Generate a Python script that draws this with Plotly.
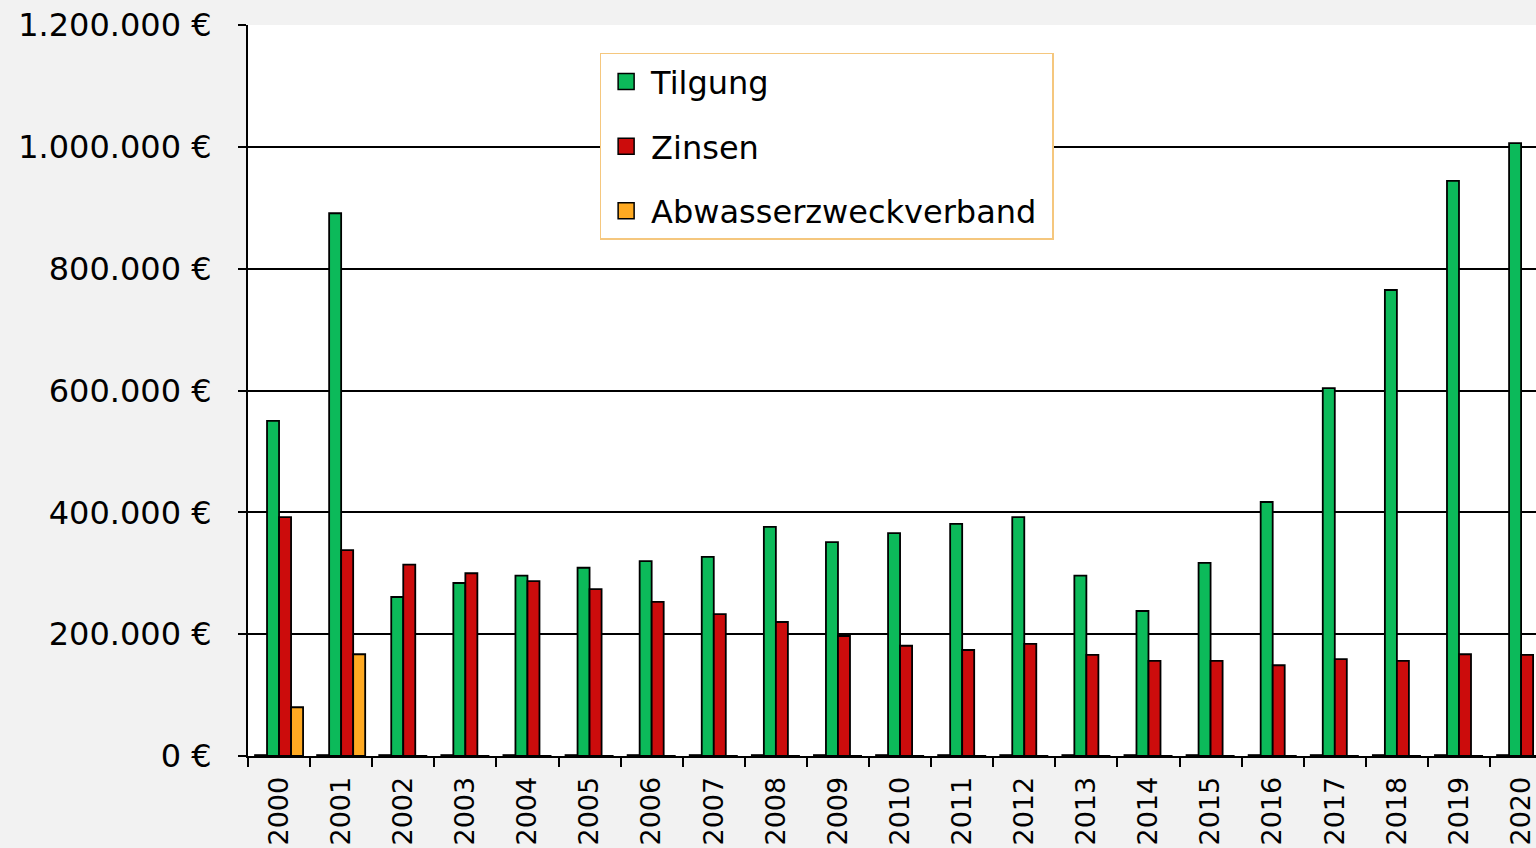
import plotly.graph_objects as go

years = [str(y) for y in range(2000, 2021)]
tilgung = [550000, 891000, 261000, 284000, 296000, 309000, 320000, 327000, 376000, 351000,
           366000, 381000, 392000, 296000, 238000, 317000, 417000, 604000, 765000, 944000, 1006000]
zinsen = [392000, 338000, 314000, 300000, 287000, 274000, 253000, 233000, 220000, 197000,
          181000, 174000, 184000, 166000, 156000, 156000, 149000, 159000, 156000, 167000, 166000]
abwasser = [80000, 167000] + [0] * 19
sonstige = [1500] * 21

y_ticks = [0, 200000, 400000, 600000, 800000, 1000000, 1200000]
y_labels = [f"{v:,}".replace(",", ".") + " €" for v in y_ticks]

names = ["Tilgung", "Zinsen", "Abwasserzweckverband"]
colors = ["#0cba5a", "#cc0c0c", "#ffaa22"]

FONT = "Tahoma, Verdana, DejaVu Sans, sans-serif"
line = dict(color="black", width=1.8)

fig = go.Figure()
fig.add_trace(go.Bar(x=years, y=sonstige, name="", showlegend=False,
                     marker=dict(color="black", line=line), hoverinfo="skip"))
for vals, nm, col in zip([tilgung, zinsen, abwasser], names, colors):
    fig.add_trace(go.Bar(x=years, y=vals, name=nm, showlegend=False,
                         marker=dict(color=col, line=line)))
# legend entries with larger square symbols
for i, (nm, col) in enumerate(zip(names, colors)):
    fig.add_trace(go.Scatter(x=[None], y=[None], mode="markers", name=nm + "\u00a0",
                             legendgroup=f"g{i}",
                             marker=dict(symbol="square", size=16, color=col,
                                         line=dict(color="black", width=1.5))))

fig.update_layout(
    width=1536, height=848,
    margin=dict(l=248, r=0, t=25, b=92),
    paper_bgcolor="#f2f2f2", plot_bgcolor="white",
    barmode="group", bargap=0.226, bargroupgap=0,
    font=dict(family=FONT, size=33, color="black"),
    legend=dict(x=0.273, y=0.962, xanchor="left", yanchor="top",
                bgcolor="white", bordercolor="#f5c77e", borderwidth=1.5,
                font=dict(family=FONT, size=32), tracegroupgap=20,
                itemsizing="trace", itemwidth=40),
    xaxis=dict(range=[-0.5, 20.24], tickangle=-90, ticks="outside",
               tickson="boundaries", ticklen=9, tickcolor="black", tickwidth=1.5,
               showline=True, linecolor="black", linewidth=2,
               showgrid=False, tickfont=dict(size=27), ticklabelstandoff=8),
    yaxis=dict(range=[0, 1200000], tickvals=y_ticks, ticktext=y_labels,
               ticks="outside", ticklen=8, tickcolor="black", tickwidth=1.5,
               showline=True, linecolor="black", linewidth=2,
               showgrid=True, gridcolor="black", gridwidth=2,
               zeroline=False, ticklabelstandoff=20, tickfont=dict(size=32)),
)

fig.write_html("out.html", config={"displayModeBar": False},
               post_script="document.body.style.margin='0';document.body.style.overflow='hidden';")
